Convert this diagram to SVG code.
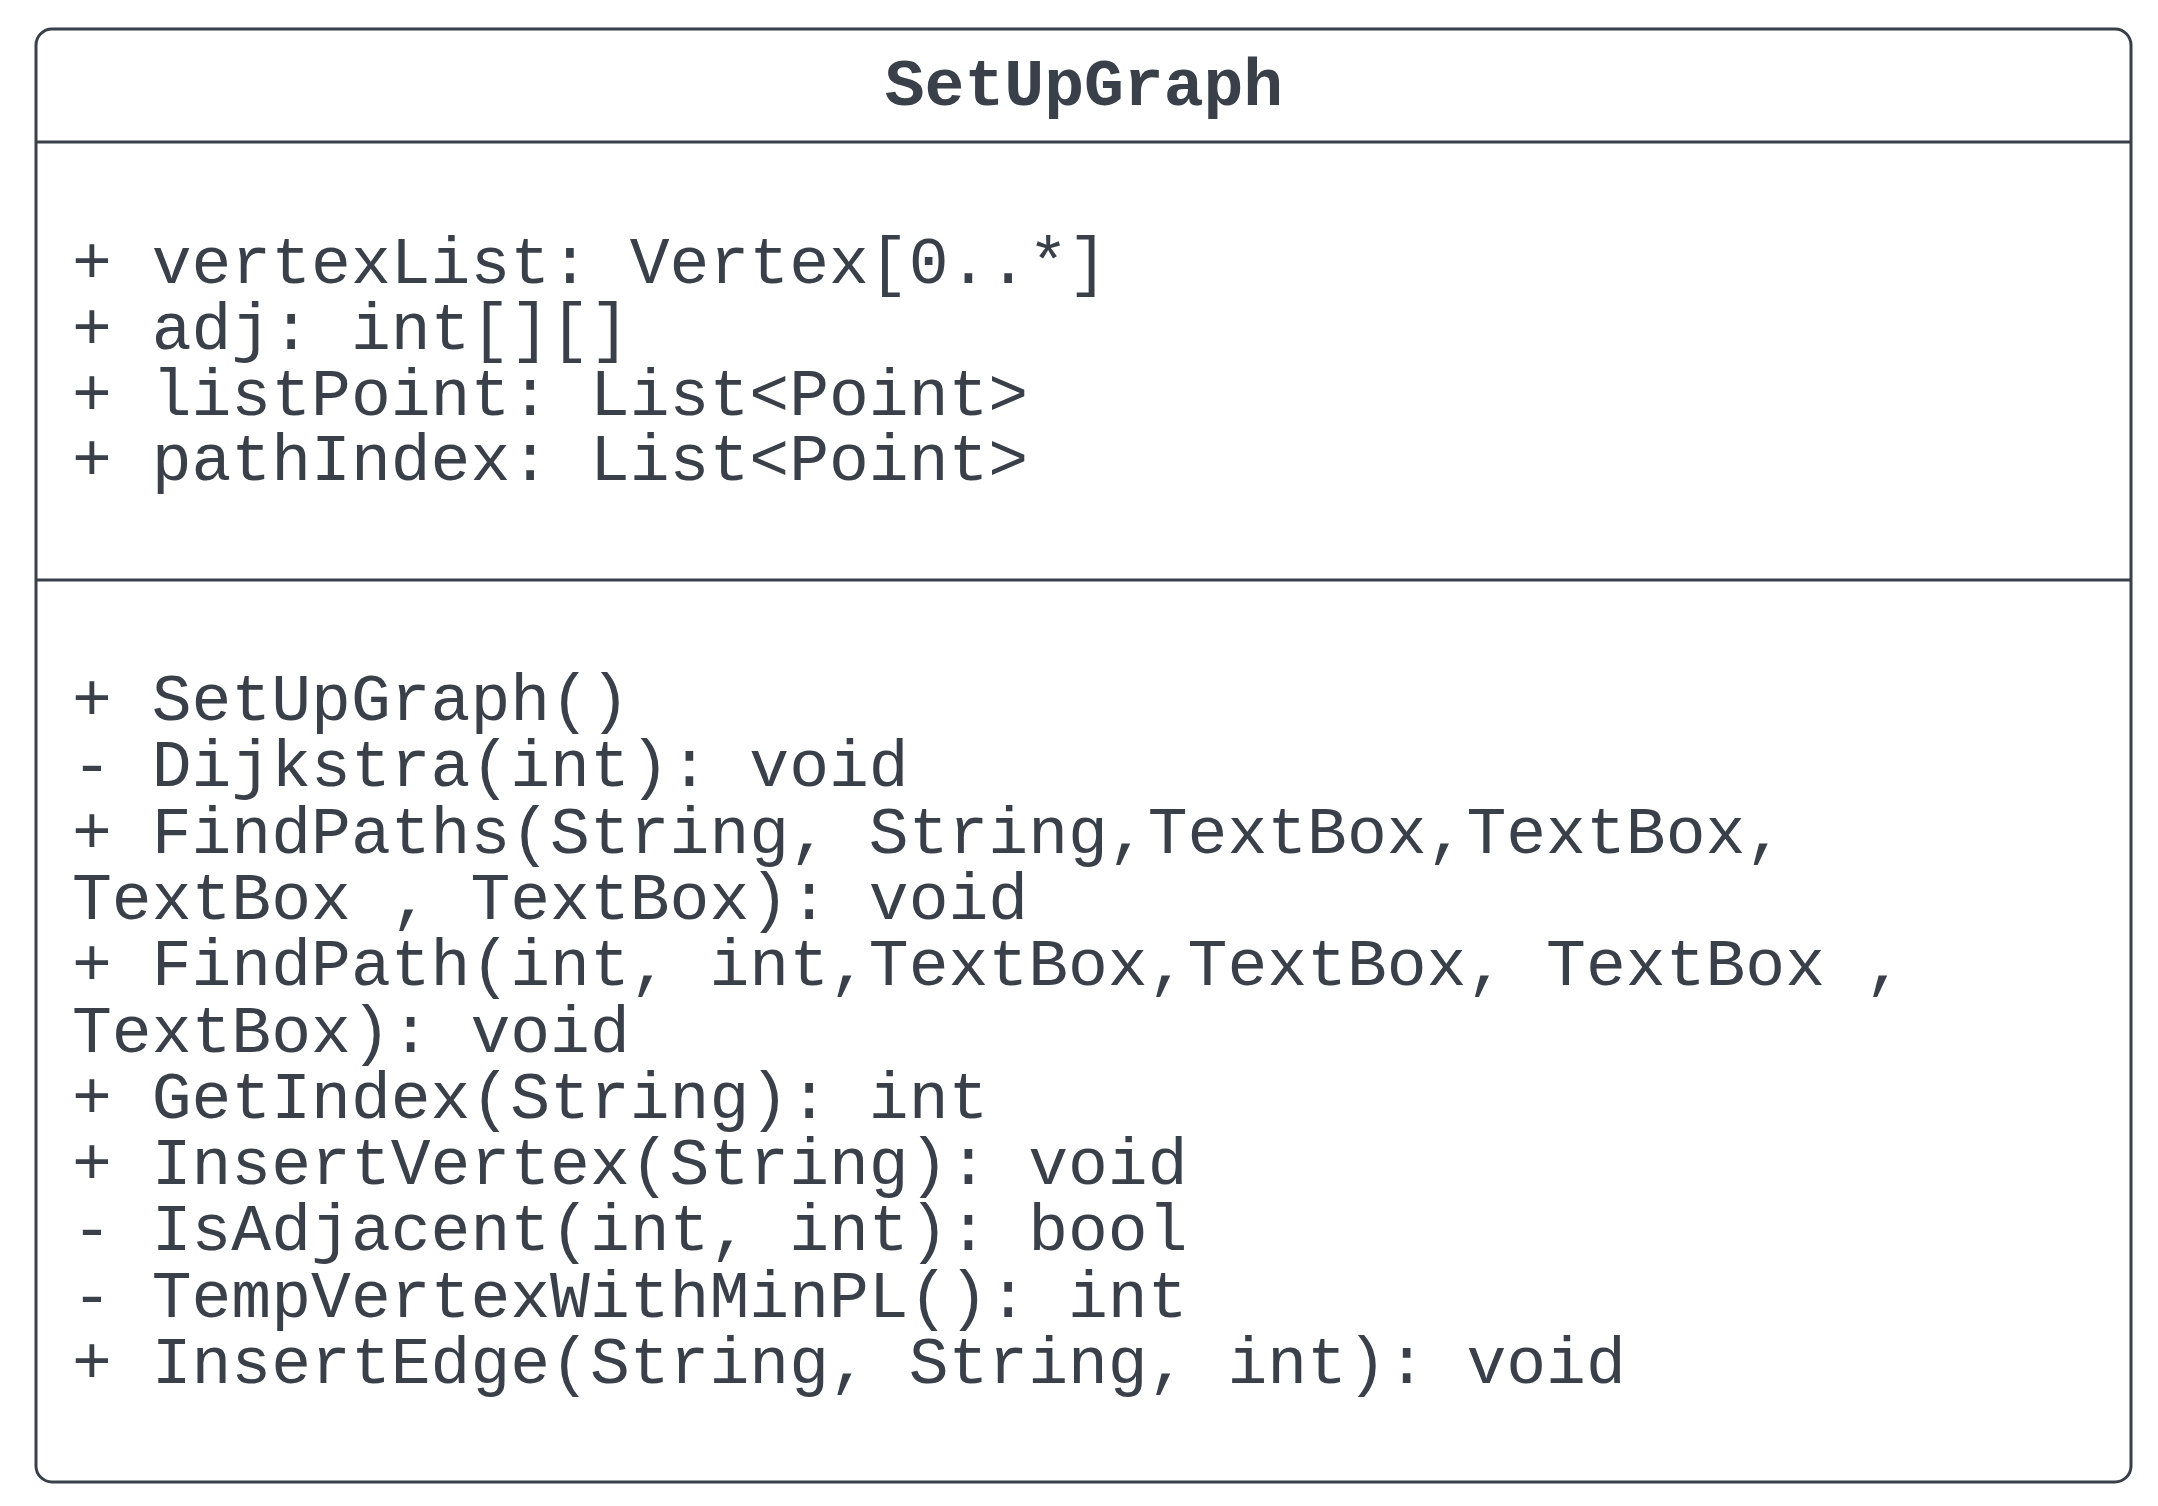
<svg xmlns="http://www.w3.org/2000/svg" width="2158" height="1506" viewBox="0 0 2158 1506">
<style>
.t{font-family:"Liberation Mono","Courier New",monospace;font-size:66.4px;fill:#394049;white-space:pre}
.b{font-weight:bold}
.ln{stroke:#394049;stroke-width:3;fill:none}
</style>
<rect width="2158" height="1506" fill="#ffffff"/>
<g id="SetUpGraph">
<rect class="ln" x="36" y="29" width="2095" height="1453" rx="16" ry="16" fill="#ffffff"/>
<line class="ln" x1="36" y1="142" x2="2131" y2="142"/>
<line class="ln" x1="36" y1="580" x2="2131" y2="580"/>
<text class="t b" x="1084" y="105" text-anchor="middle">SetUpGraph</text>
<text class="t" x="72" y="283">+ vertexList: Vertex[0..*]</text>
<text class="t" x="72" y="349">+ adj: int[][]</text>
<text class="t" x="72" y="414.5">+ listPoint: List&lt;Point&gt;</text>
<text class="t" x="72" y="480">+ pathIndex: List&lt;Point&gt;</text>
<text class="t" x="72" y="720">+ SetUpGraph()</text>
<text class="t" x="72" y="786.3">- Dijkstra(int): void</text>
<text class="t" x="72" y="852.6">+ FindPaths(String, String,TextBox,TextBox,</text>
<text class="t" x="72" y="918.9">TextBox , TextBox): void</text>
<text class="t" x="72" y="985.2">+ FindPath(int, int,TextBox,TextBox, TextBox ,</text>
<text class="t" x="72" y="1051.5">TextBox): void</text>
<text class="t" x="72" y="1117.8">+ GetIndex(String): int</text>
<text class="t" x="72" y="1184.1">+ InsertVertex(String): void</text>
<text class="t" x="72" y="1250.4">- IsAdjacent(int, int): bool</text>
<text class="t" x="72" y="1316.7">- TempVertexWithMinPL(): int</text>
<text class="t" x="72" y="1383">+ InsertEdge(String, String, int): void</text>
</g>
<g id="connectors"></g>
</svg>
